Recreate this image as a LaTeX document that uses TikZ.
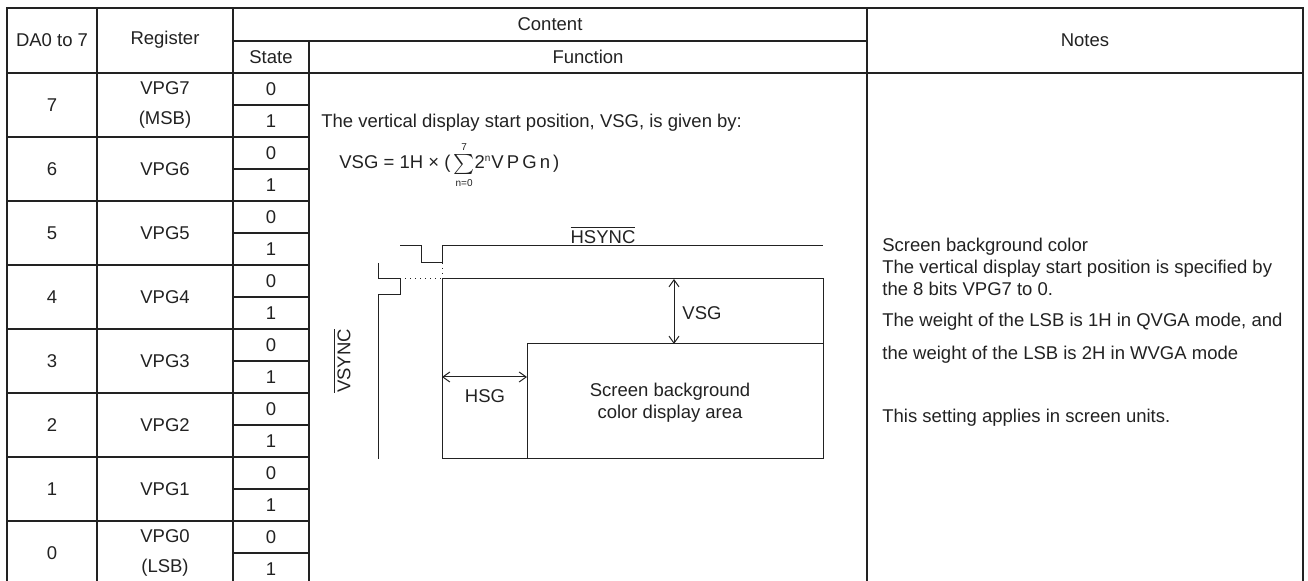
\documentclass[tikz,border=0pt]{standalone}
\usepackage{fontspec}
\setmainfont{Liberation Sans}
\usepackage{tikz}
\usetikzlibrary{arrows.meta}
\definecolor{ink}{HTML}{222222}
\tikzstyle{cell} = [inner sep=0pt,
					text centered,
					text=ink,
					font=\fontsize{9.25}{11}\selectfont
				   ]
\tikzstyle{note} = [inner sep=0pt,
					anchor=west,
					text=ink,
					font=\fontsize{9.25}{11}\selectfont
				   ]
\tikzstyle{grid} = [line width=0.7pt, draw=ink]
\tikzstyle{wave} = [line width=0.5pt, draw=ink]
\tikzstyle{dim} = [line width=0.5pt, draw=ink,
				   {Straight Barb[length=3.5pt,width=5pt]}-{Straight Barb[length=3.5pt,width=5pt]}]

\begin{document}
\begin{tikzpicture}[x=0.5pt, y=-0.5pt]

\useasboundingbox (0,0) rectangle (1308,581);

% table frame and header
\draw [grid] (7,581) -- (7,8) -- (1303,8) -- (1303,581);
\draw [grid] (97,8) -- (97,581);
\draw [grid] (233,8) -- (233,581);
\draw [grid] (867,8) -- (867,581);
\draw [grid] (233,41) -- (867,41);
\draw [grid] (309,41) -- (309,581);
\draw [grid] (7,73) -- (1303,73);

\node (da) [cell] at (52,40) {DA0 to 7};
\node (reg) [cell] at (165,40) {Register};
\node (content) [cell] at (550,24) {Content};
\node (state) [cell] at (271,57) {State};
\node (function) [cell] at (588,57) {Function};
\node (notes) [cell] at (1085,40) {Notes};

% register rows
\foreach \d [count=\i from 0] in {7,6,...,0} {
	\node (da\d) [cell] at (52,105+64*\i) {\d};
	\node (zero\d) [cell] at (271,89+64*\i) {0};
	\node (one\d) [cell] at (271,121+64*\i) {1};
	\draw [grid] (233,105+64*\i) -- (309,105+64*\i);
}
\foreach \i in {0,...,6} {
	\draw [grid] (7,137+64*\i) -- (309,137+64*\i);
}
\node (vpg7) [cell, align=center, font=\fontsize{9.25}{15}\selectfont] at (165,105) {VPG7\\(MSB)};
\foreach \d [count=\i from 1] in {6,5,...,1} {
	\node (vpg\d) [cell] at (165,105+64*\i) {VPG\d};
}
\node (vpg0) [cell, align=center, font=\fontsize{9.25}{15}\selectfont] at (165,553) {VPG0\\(LSB)};

% function text
\node (fn) [note] at (321,123) {The vertical display start position, VSG, is given by:};
\node (eq) [note] at (339,165) {VSG = 1H × (\,$\sum\limits_{\mbox{\tiny n=0}}^{\mbox{\tiny 7}}$2$^{\mbox{\tiny n}}$V\,P\,G\,n\,)};

% timing sketch
\coordinate (h0) at (400,246);
\coordinate (hend) at (823,246);
\coordinate (v0) at (378,263);
\coordinate (vend) at (378,459);
\coordinate (tl) at (442,279);
\coordinate (br) at (823,459);
\draw [wave] (h0) -- (421,246) -- (421,263) -- (442,263) -- (442,246) -- (hend);
\draw [wave] (v0) -- (378,279) -- (400,279) -- (400,295) -- (378,295) -- (vend);
\draw [wave, dotted] (400,279) -- (tl);
\draw [wave, dotted] (442,263) -- (tl);
\draw [wave] (tl) rectangle (br);
\draw [wave] (527,459) -- (527,344) -- (823,344);

\coordinate (vsgtop) at (674,279);
\coordinate (vsgbot) at (674,344);
\coordinate (hsgl) at (442,377);
\coordinate (hsgr) at (527,377);
\draw [dim] (vsgtop) -- (vsgbot);
\draw [dim] (hsgl) -- (hsgr);

\node (hsync) [cell] at (603,235) {$\overline{\mbox{HSYNC}}$};
\node (vsync) [cell, rotate=90] at (342,361) {$\overline{\mbox{VSYNC}}$};
\node (vsg) [cell] at (702,313) {VSG};
\node (hsg) [cell] at (485,396) {HSG};
\node (area) [cell, align=center] at (670,403) {Screen background\\color display area};

% notes
\node (n1) [note] at (882,247) {Screen background color};
\node (n2) [note] at (882,269) {The vertical display start position is specified by};
\node (n3) [note] at (882,289) {the 8 bits VPG7 to 0.};
\node (n4) [note] at (882,322) {The weight of the LSB is 1H in QVGA mode, and};
\node (n5) [note] at (882,355) {the weight of the LSB is 2H in WVGA mode};
\node (n6) [note] at (882,418) {This setting applies in screen units.};

\end{tikzpicture}
\end{document}
